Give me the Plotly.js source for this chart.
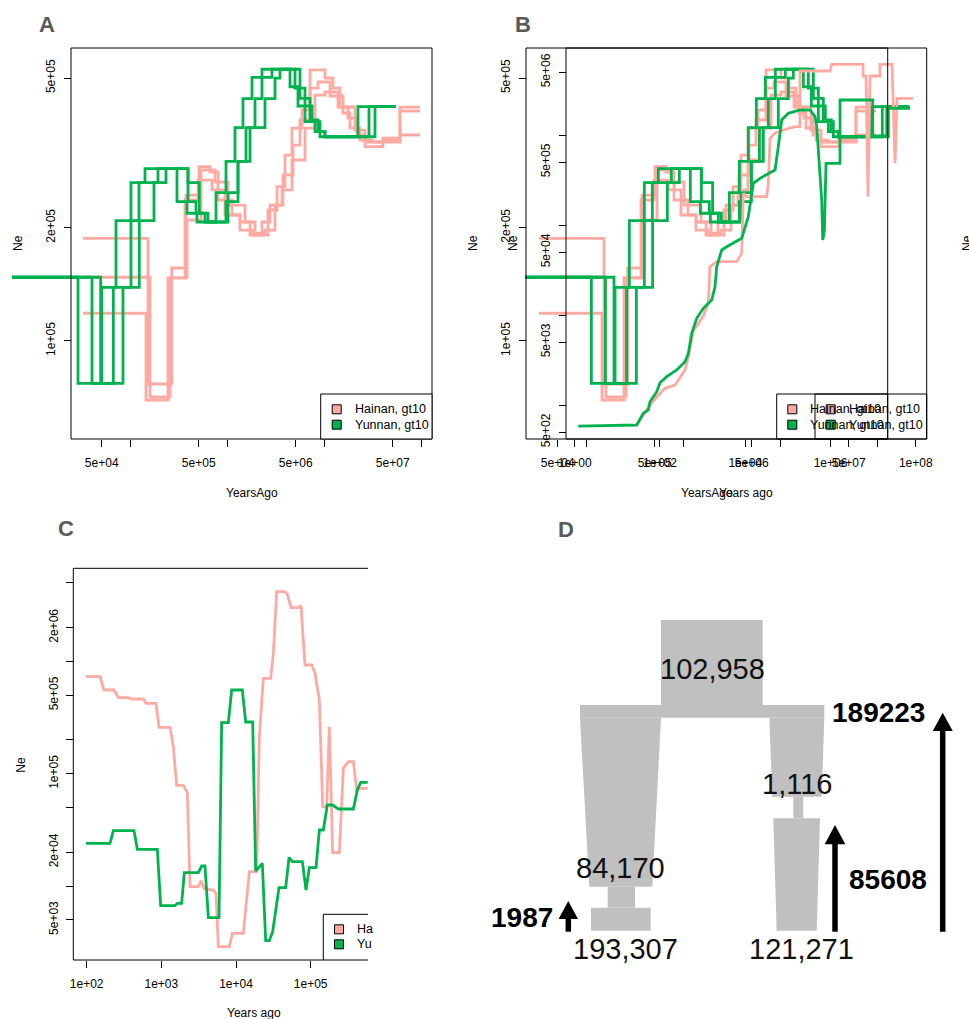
<!DOCTYPE html>
<html><head><meta charset="utf-8">
<script src="https://cdn.plot.ly/plotly-3.0.1.min.js"></script>
<style>html,body{margin:0;padding:0;background:#fff}#chart{width:969px;height:1019px}</style>
</head><body><div id="chart"></div>
<script>
// ---------- Panel A : PSMC bootstrap curves (years ago, Ne) ----------
const aHainan1Years = [32100,150100,263400,369900,503700,653900,790700,1102000,1333000,1690000,2591000,3208000,3878000,4580000,5807000,7022000,10020000,12120000,14310000,17300000,21420000,25910000,39710000,59470000,95570000];
const aHainan1Ne    = [187300,76770,156200,244200,290500,281200,236900,216100,207000,191100,222800,257000,312000,368100,411100,525300,500000,470200,418700,391400,352700,328300,342000,418400,418400];
const aHainan2Years = [32100,157300,253000,378800,528200,736200,1002000,1501000,1903000,2412000,3059000,3698000,4690000,5538000,7022000,8491000,11290000,15370000,18140000,23000000,30580000,59470000,95570000];
const aHainan2Ne    = [147600,70900,147000,209600,284700,264500,229700,207000,193500,197100,229700,276100,331700,386700,470200,487900,447800,403600,368100,342000,337900,408600,408600];
const aHainan3Years = [32100,143100,241300,361200,491900,685700,933600,1333000,1772000,2246000,2716000,3611000,4580000,6235000,7907000,10020000,13650000,20430000,25910000,39710000,59470000,95570000];
const aHainan3Ne    = [118400,69610,147000,236900,267700,251900,216100,197100,191100,207000,229700,251900,302600,368100,450500,458900,418700,363600,337900,346200,352700,352700];
const aYunnan1Years = [5950,28500,50000,70200,100200,139800,298700,378800,480300,754000,956000,1184000,1431000,1772000,2246000,4368000,5282000,6235000,7907000,10020000,21940000,54080000];
const aYunnan1Ne    = [147600,77090,138800,208700,263400,287000,234400,218400,207000,247700,300200,368800,440600,502200,527500,474000,421300,382700,359900,349000,419500,419500];
const aYunnan2Years = [5950,39700,65900,100200,121200,190300,387900,469000,580700,956000,1271000,1537000,1903000,2246000,2848000,4918000,6235000,7362000,8902000,28480000,54080000];
const aYunnan2Ne    = [147600,77090,138800,208700,263400,287000,234400,218400,207000,234400,300200,368800,440600,502200,527500,469800,421300,382700,349000,419500,419500];
const aYunnan3Years = [5950,48800,82900,122000,173000,230100,387900,507000,623500,1002000,1271000,1690000,2412000,3059000,3444000,5538000,7022000,8491000,10020000,32850000,54080000];
const aYunnan3Ne    = [147600,77090,138800,208700,263400,287000,263400,218400,207000,247700,300200,368800,440600,499600,527500,441600,386700,359900,349000,419500,419500];
// Panel B (first layer): same curves, Yunnan rescaled in time
const bYunnanTimeScale = 3.9;
// Panel B (second layer): smoothed curves
const bYunnanYears = [1.21,28.5,40.7,53.3,58.4,83.9,100.3,144,247,387,463,556,728,1040,1637,1956,2145,2809,3681,5764,8277,11820,15490,22240,50030,59770,71830,102600,193000,331400,434000,475900,518800,623400,658000,717400,786500,1675000,1675000,9800000,9800000,20870000,20870000,73500000];
const bYunnanNe    = [587,603,813,885,1094,1413,1779,2074,2462,3044,3775,6295,9241,11930,14760,20740,34590,53050,57700,65590,71560,124300,292200,332000,410600,745500,1476000,1751000,1906000,1906000,1606000,1243000,685000,190600,68500,84700,487500,487500,2462000,2462000,980000,980000,1990000,1990000];
const bHainanYears = [28.5,58.4,91.5,131.4,225.5,387,463,606,1040,1362,1494,2145,6318,8277,9024,10840,31950,34830,38180,50030,78300,147400,193000,193000,978900,1070000,5800000,5800000,6820000,7600000,8470000,14540000,14540000,27800000,32700000,36400000,86400000];
const bHainanNe    = [603,1005,1298,1541,1677,2462,3459,6676,9800,13560,34590,39320,39320,48740,226200,207400,207400,292200,924000,1050000,1143000,1243000,1243000,5170000,5170000,6140000,6140000,4550000,4550000,207400,4550000,4550000,6140000,6140000,487500,2570000,2570000];
// ---------- Panel C ----------
const cHainanYears = [97.9,151,170.7,232.3,265.6,361.4,400.6,574.1,623.2,848.3,930.6,1307,1448,1605,1970,2229,2421,3130,3399,3766,4971,5398,5799,8141,8930,12540,15090,18920,20540,23240,29130,31620,35050,45330,48700,54530,68360,74220,83980,103100,114300,130700,144800,163800,177800,197000,242100,273800,319600,372700,413200,481900,579900];
const cHainanNe    = [732000,732000,557200,557200,476200,476200,463400,463400,423900,423900,259100,259100,174300,78890,78890,67880,9879,9879,11170,9417,9226,8617,2887,2887,3794,3794,13430,13430,214000,707600,707600,1181000,4183000,4183000,3988000,3014000,3014000,3140000,930100,930100,784000,454000,50930,50930,262700,19830,19830,111800,128200,128200,71700,74190,74190];
const cYunnanYears = [97.9,205.4,227.6,430.5,477,884,979.7,1524,1638,1872,2032,3130,3469,3844,4261,5920,6427,7897,8750,12160,13480,16720,18340,22530,24960,27960,30980,37660,46270,51280,56830,77340,86600,95970,117900,130700,147800,167200,197000,234700,372700,421700,467300,579900];
const cYunnanNe    = [24010,24010,31140,31140,21240,21240,6692,6692,7020,7020,13160,13160,15090,15090,5231,5231,285100,285100,557200,557200,289100,289100,13620,15940,3264,3264,3926,9678,9678,18030,16500,16500,9226,14580,14580,31580,31580,52710,52710,48570,48570,71700,83890,83890];
// ---------- Panel D : demographic model ----------
const dDemes = [
  [[181,110],[282.7,110],[282.7,195],[181,195]],
  [[100,195],[344.3,195],[344.3,207.7],[100,207.7]],
  [[100,207.7],[181,207.7],[172.3,376.7],[109.3,376.7]],
  [[127.7,376.7],[155,376.7],[155,397.7],[127.7,397.7]],
  [[111,397.7],[170.7,397.7],[170.7,420.7],[111,420.7]],
  [[289.3,207.7],[344.3,207.7],[341.7,286.7],[292.3,286.7]],
  [[313.3,286.7],[323.3,286.7],[323.3,308.3],[313.3,308.3]],
  [[293.3,308.3],[340,308.3],[336.7,420.7],[296.7,420.7]]
];
const dSizeLabels = ['102,958','84,170','1,116','193,307','121,271'];
const dSizePos = [[232.3,159.3],[140,358.3],[316.7,274],[145,439.3],[321.7,439.3]];
const dTimeLabels = ['189223','85608','1987'];
const dTimePos = [[398.3,202.7],[408.3,369.3],[41.7,407.3]];
const dArrows = [[462.7,421.7,202.7,10,18.3],[355,421.7,315,10.3,19.3],[88.3,421.7,391,9.7,18]];

const W=969,H=1019;
const PINK='#FFA9A3', GREEN='#00B34F';
const FONT='Liberation Sans, Arial, Helvetica, sans-serif';
const X=p=>p/W, Y=p=>1-p/H;

function tr(x,y,color,xa,ya,shape,w){
  return {type:'scatter',mode:'lines',x:x,y:y,xaxis:xa,yaxis:ya,hoverinfo:'skip',
    line:{color:color,width:w||2.8,shape:shape||'hv'}};
}
const traces=[];
// A
[[aHainan1Years,aHainan1Ne],[aHainan2Years,aHainan2Ne],[aHainan3Years,aHainan3Ne]].forEach(d=>traces.push(tr(d[0],d[1],PINK,'x','y')));
[[aYunnan1Years,aYunnan1Ne],[aYunnan2Years,aYunnan2Ne],[aYunnan3Years,aYunnan3Ne]].forEach(d=>traces.push(tr(d[0],d[1],GREEN,'x','y')));
// B layer 1
[[aHainan1Years,aHainan1Ne],[aHainan2Years,aHainan2Ne],[aHainan3Years,aHainan3Ne]].forEach(d=>traces.push(tr(d[0],d[1],PINK,'x2','y2')));
[[aYunnan1Years,aYunnan1Ne],[aYunnan2Years,aYunnan2Ne],[aYunnan3Years,aYunnan3Ne]].forEach(d=>traces.push(tr(d[0].map(v=>v*bYunnanTimeScale),d[1],GREEN,'x2','y2')));
// B layer 2
traces.push(tr(bHainanYears,bHainanNe,PINK,'x3','y3','linear',2.8));
traces.push(tr(bYunnanYears,bYunnanNe,GREEN,'x3','y3','linear',2.8));
// C
traces.push(tr(cHainanYears,cHainanNe,PINK,'x4','y4','linear',2.8));
traces.push(tr(cYunnanYears,cYunnanNe,GREEN,'x4','y4','linear',2.8));
// D placeholder trace so its axes exist
traces.push({type:'scatter',mode:'markers',x:[0],y:[0],xaxis:'x5',yaxis:'y5',marker:{opacity:0},hoverinfo:'skip'});

const tf={family:FONT,size:12,color:'#000'};
function xax(dom,range,anchor,tv,tt){
  return {type:'log',domain:dom,range:range,anchor:anchor,tickvals:tv,ticktext:tt,ticks:'outside',ticklen:7,
    tickcolor:'#000',tickwidth:1,showgrid:false,zeroline:false,showline:false,tickfont:tf,ticklabelstandoff:6};
}
function yax(dom,range,pos,tv,tt){
  return {type:'log',domain:dom,range:range,anchor:'free',position:pos,tickvals:tv,ticktext:tt,ticks:'outside',ticklen:7,
    tickcolor:'#000',tickwidth:1,showgrid:false,zeroline:false,showline:false,tickfont:tf,tickangle:-90,ticklabelstandoff:4};
}
const aTicks=[5e4,1e5,5e5,1e6,5e6,1e7,5e7,1e8], aText=['5e+04','','5e+05','','5e+06','','5e+07',''];
const plotY=[Y(439),Y(48)];
const layout={
  width:W,height:H,margin:{l:0,r:0,t:0,b:0,pad:0},showlegend:false,
  paper_bgcolor:'#fff',plot_bgcolor:'rgba(0,0,0,0)',font:{family:FONT,size:12,color:'#000'},
  xaxis: xax([0,X(432)],[3.6506,8.1041],'y',aTicks,aText),
  yaxis: yax(plotY,[4.7389,5.7788],X(71),[1e5,2e5,5e5],['1e+05','2e+05','5e+05']),
  xaxis2:xax([X(520),1],[4.3103,8.9392],'y2',aTicks,aText),
  yaxis2:yax(plotY,[4.7389,5.7788],X(526),[1e5,2e5,5e5],['1e+05','2e+05','5e+05']),
  xaxis3:xax([X(566),X(926.7)],[-0.2041,8.2573],'y3',[1,100,1e4,1e6,1e8],['1e+00','1e+02','1e+04','1e+06','1e+08']),
  yaxis3:yax(plotY,[2.6246,6.969],X(566),[500,1e3,5e3,1e4,5e4,1e5,5e5,1e6,5e6],['5e+02','','5e+03','','5e+04','','5e+05','','5e+06']),
  xaxis4:xax([X(73.3),X(368)],[1.821,5.7677],'y4',[100,1e3,1e4,1e5],['1e+02','1e+03','1e+04','1e+05']),
  yaxis4:yax([Y(960),Y(568.3)],[3.3417,6.8297],X(73.3),[5e3,1e4,2e4,5e4,1e5,2e5,5e5,1e6,2e6,5e6],['5e+03','','2e+04','','1e+05','','5e+05','','2e+06','']),
  xaxis5:{domain:[X(480),1],range:[0,489],visible:false,anchor:'y5'},
  yaxis5:{domain:[0,Y(510)],range:[509,0],visible:false,anchor:'x5'},
  shapes:[],annotations:[]
};
const S=layout.shapes, A=layout.annotations;
function rectP(x0,y0,x1,y1,fill){S.push({type:'rect',xref:'paper',yref:'paper',x0:X(x0),x1:X(x1),y0:Y(y1),y1:Y(y0),line:{color:'#000',width:1},fillcolor:fill||'rgba(0,0,0,0)',layer:'above'});}
function lineP(x0,y0,x1,y1){S.push({type:'line',xref:'paper',yref:'paper',x0:X(x0),x1:X(x1),y0:Y(y0),y1:Y(y1),line:{color:'#000',width:1},layer:'above'});}
function txt(x,y,t,opt){A.push(Object.assign({xref:'paper',yref:'paper',x:X(x),y:Y(y),text:t,showarrow:false,xanchor:'center',yanchor:'middle',font:{family:FONT,size:12,color:'#000'}},opt||{}));}
function legend(x0,x1,sx,tx,labels){
  rectP(x0,394,x1,439,null);
  [PINK,GREEN].forEach((c,i)=>{
    const yy=409.3+i*15.4;
    rectP(sx-4.5,yy-4.5,sx+4.5,yy+4.5,c);
    txt(tx,yy,labels[i],{xanchor:'left',font:{family:FONT,size:12.5,color:'#000'}});
  });
}
// boxes
rectP(71,48,432,439); rectP(526,48,887.7,439); rectP(566,48,926.7,439);
lineP(73.3,568.3,73.3,960); lineP(73.3,568.3,368,568.3); lineP(73.3,960,368,960);
// legends
S.push({type:'rect',xref:'paper',yref:'paper',x0:X(320.7),x1:X(432),y0:Y(439),y1:Y(394),line:{width:0},fillcolor:'#fff',layer:'above'});
legend(320.7,432,336.7,352.5,['Hainan, gt10','Yunnan, gt10']);
legend(776.7,887.7,792.3,807.5,['Hainan, gt10','Yunnan, gt10']);
legend(815,926.7,830.7,846.5,['Hainan, gt10','Yunnan, gt10']);
lineP(323.3,914.3,323.3,960); lineP(323.3,914.3,368,914.3);
[PINK,GREEN].forEach((c,i)=>{const yy=929.3+i*15;rectP(334.5,yy-4.5,343.5,yy+4.5,c);txt(354.5,yy,['Ha','Yu'][i],{xanchor:'left',font:{family:FONT,size:12.5,color:'#000'}});});
// axis titles
const rot={textangle:-90};
txt(18,243,'Ne',rot); txt(252,493,'YearsAgo');
txt(473,243,'Ne',rot); txt(706.8,493,'YearsAgo');
txt(513,243,'Ne',rot); txt(746.3,493,'Years ago');
txt(20.7,765,'Ne',rot); txt(254,1013,'Years ago');
txt(967,243,'Ne',rot);
// panel letters
const L={font:{family:FONT,size:22,color:'#595959',weight:'bold'}};
txt(46.7,24,'<b>A</b>',L); txt(523.3,24,'<b>B</b>',L); txt(65.7,528.5,'<b>C</b>',L); txt(566,529,'<b>D</b>',L);
// panel D
dDemes.forEach(p=>{S.push({type:'path',xref:'x5',yref:'y5',path:'M'+p.map(q=>q[0]+','+q[1]).join(' L')+' Z',fillcolor:'#C0C0C0',line:{width:0},layer:'above'});});
dArrows.forEach(a=>{
  const [x,y0,y1,hw,hl]=a;
  S.push({type:'line',xref:'x5',yref:'y5',x0:x,x1:x,y0:y0,y1:y1+hl-1,line:{color:'#000',width:5.5},layer:'above'});
  S.push({type:'path',xref:'x5',yref:'y5',path:`M${x-hw},${y1+hl} L${x+hw},${y1+hl} L${x},${y1} Z`,fillcolor:'#000',line:{width:0},layer:'above'});
});
dSizeLabels.forEach((t,i)=>A.push({xref:'x5',yref:'y5',x:dSizePos[i][0],y:dSizePos[i][1],text:t,showarrow:false,xanchor:'center',yanchor:'middle',font:{family:FONT,size:29,color:'#111'}}));
dTimeLabels.forEach((t,i)=>A.push({xref:'x5',yref:'y5',x:dTimePos[i][0],y:dTimePos[i][1],text:'<b>'+t+'</b>',showarrow:false,xanchor:'center',yanchor:'middle',font:{family:FONT,size:28,color:'#000'}}));

Plotly.newPlot('chart',traces,layout,{displayModeBar:false,staticPlot:true});
</script></body></html>
